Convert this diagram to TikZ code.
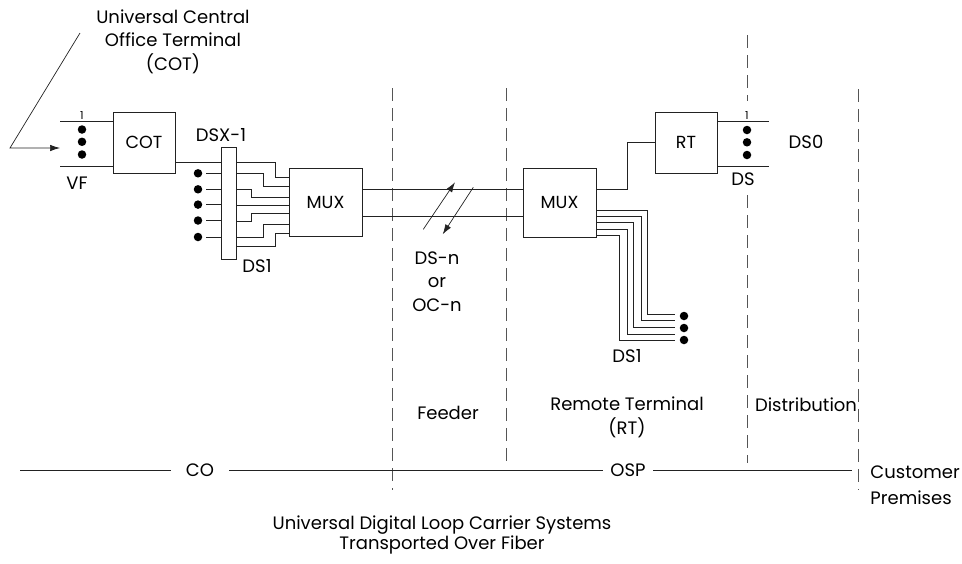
\documentclass[tikz,border=0pt]{standalone}
\usepackage{fontspec}
\setmainfont{Poppins}
\usetikzlibrary{arrows.meta,calc}
\definecolor{ln}{HTML}{222222}
\definecolor{dsh}{HTML}{555555}
\begin{document}
\begin{tikzpicture}[x=1pt,y=-1pt,line width=0.9pt,draw=ln,
  box/.style={draw=ln,fill=white,inner sep=0pt,font=\fontsize{17.5}{20}\selectfont},
  dot/.style={circle,fill=black,draw=none,inner sep=0pt,minimum size=8.5pt},
  lbl/.style={inner sep=0pt,align=center,font=\fontsize{18}{23.5}\selectfont},
  tiny/.style={inner sep=0pt,font=\fontsize{11}{12}\selectfont},
  dline/.style={draw=dsh,line width=0.8pt,dash pattern=on 13pt off 7pt},
  tip/.style={-{Latex[length=10pt,width=6.5pt]}}]
\useasboundingbox (0,0) rectangle (962,563);

% dashed boundaries
\coordinate (f1t) at (392.5,88);  \coordinate (f1b) at (392.5,490);
\coordinate (f2t) at (506,88);    \coordinate (f2b) at (506,462);
\coordinate (f3t) at (747,35);    \coordinate (f3m) at (747,101);
\coordinate (f3n) at (747,195);   \coordinate (f3b) at (747,463);
\coordinate (f4t) at (858,89);    \coordinate (f4b) at (858,490);
\draw[dline] (f1t) -- (f1b);
\draw[dline] (f2t) -- (f2b);
\draw[dline] (f3t) -- (f3m);
\draw[dline] (f3n) -- (f3b);
\draw[dline] (f4t) -- (f4b);

% boxes
\node[box,minimum width=62pt,minimum height=61pt] (cot) at (144,142.5) {COT};
\node[box,minimum width=73pt,minimum height=68.5pt] (mux1) at (325.5,202.5) {MUX};
\node[box,minimum width=73pt,minimum height=69pt] (mux2) at (559.5,202.75) {MUX};
\node[box,minimum width=62pt,minimum height=61pt] (rt) at (686,142.5) {RT};

% VF side
\coordinate (vft) at (60,121);
\coordinate (vfb) at (60,166);
\draw (vft) -- (cot.west |- vft);
\draw (vfb) -- (cot.west |- vfb);
\node[dot] (v1) at (82,129.5) {};
\node[dot] (v2) at (82,141.8) {};
\node[dot] (v3) at (82,154.5) {};
\node[tiny,anchor=south] (vone) at (82,119.5) {1};
\node[lbl] (vf) at (77,183) {VF};

% pointer
\coordinate (p1) at (80,33);
\coordinate (p2) at (10,148);
\coordinate (p3) at (60,148);
\draw[tip,line width=0.7pt] (p1) -- (p2) -- (p3);
\node[lbl] (title) at (173,41.5) {Universal Central\\Office Terminal\\(COT)};

% DSX-1 wires (right side)
\node[inner sep=0pt,minimum width=15pt,minimum height=112pt] (dsxarea) at (228.5,203) {};
\draw (cot.east |- 0,162) -- (dsxarea.west |- 0,162);
\draw (dsxarea.east |- 0,162) -| (275,177) -- (mux1.west |- 0,177);
\draw (dsxarea.east |- 0,173.3) -| (263,186) -- (mux1.west |- 0,186);
\draw (dsxarea.east |- 0,189.3) -| (251.7,197) -- (mux1.west |- 0,197);
\draw (dsxarea.east |- 0,205) -- (mux1.west |- 0,205);
\draw (dsxarea.east |- 0,221) -| (251.7,213.3) -- (mux1.west |- 0,213.3);
\draw (dsxarea.east |- 0,237) -| (263,224.3) -- (mux1.west |- 0,224.3);
\draw (dsxarea.east |- 0,246) -| (275,233) -- (mux1.west |- 0,233);
% DSX-1 left dots
\foreach \i/\yy in {1/173.3,2/189.3,3/204.6,4/220.5,5/237}{
  \node[dot] (d\i) at (198,\yy) {};
  \draw ([xshift=8pt]d\i.center) -- (dsxarea.west |- d\i);
}
\node[draw=ln,fill=white,inner sep=0pt,minimum width=15pt,minimum height=112pt] (dsx) at (228.5,203) {};
\node[lbl] (dsxl) at (221,135) {DSX-1};
\node[lbl] (ds1a) at (257,266) {DS1};

% feeder link
\draw (mux1.east |- 0,189) -- (mux2.west |- 0,189);
\draw (mux1.east |- 0,216.5) -- (mux2.west |- 0,216.5);
\coordinate (a1s) at (423.3,229.3); \coordinate (a1e) at (455,182.3);
\coordinate (a2s) at (473.3,187.3); \coordinate (a2e) at (442.7,234.3);
\draw[tip,line width=0.7pt] (a1s) -- (a1e);
\draw[tip,line width=0.7pt] (a2s) -- (a2e);
\node[lbl] (dsn) at (437,281.5) {DS-n\\or\\OC-n};

% MUX2 to RT
\draw (mux2.east |- 0,189) -| (627,142) -- (rt.west |- 0,142);

% RT outputs
\coordinate (dst) at (769,121);
\coordinate (dsb) at (769,166);
\draw (rt.east |- dst) -- (dst);
\draw (rt.east |- dsb) -- (dsb);
\node[dot] (s1) at (747,130) {};
\node[dot] (s2) at (747,142.3) {};
\node[dot] (s3) at (747,155) {};
\node[tiny,anchor=south] (sone) at (747,119.5) {1};
\node[lbl] (ds) at (743,179) {DS};
\node[lbl] (ds0) at (806,142) {DS0};

% MUX2 DS1 bundle
\coordinate (b1) at (675,314);
\coordinate (b2) at (675,320);
\coordinate (b3) at (675,327);
\coordinate (b4) at (675,334);
\coordinate (b5) at (675,340);
\draw (mux2.east |- 0,210) -| (647,314) -- (b1);
\draw (mux2.east |- 0,216) -| (641,320) -- (b2);
\draw (mux2.east |- 0,222.5) -| (633.5,327) -- (b3);
\draw (mux2.east |- 0,229) -| (627,334) -- (b4);
\draw (mux2.east |- 0,235) -| (619,340) -- (b5);
\node[dot] (e1) at (684,316) {};
\node[dot] (e2) at (684,328) {};
\node[dot] (e3) at (684,340) {};
\node[lbl] (ds1b) at (627,356) {DS1};

% zone labels
\node[lbl] (feeder) at (448,413) {Feeder};
\node[lbl] (rtl) at (627,417.5) {Remote Terminal\\(RT)};
\node[lbl] (dist) at (806,405) {Distribution};

% CO / OSP line
\coordinate (ll) at (20,470);
\coordinate (lr) at (852,470);
\node[lbl,inner xsep=15pt] (co) at (200,470) {CO};
\node[lbl,inner xsep=7pt] (osp) at (628,470) {OSP};
\draw (ll) -- (co) (co) -- (osp) (osp) -- (lr);
\node[lbl,anchor=west,align=left,font=\fontsize{18}{26}\selectfont] (cust) at (870,485) {Customer\\Premises};

% caption
\node[lbl,font=\fontsize{18}{20}\selectfont] (cap) at (442,535) {Universal Digital Loop Carrier Systems\\Transported Over Fiber};
\end{tikzpicture}
\end{document}
